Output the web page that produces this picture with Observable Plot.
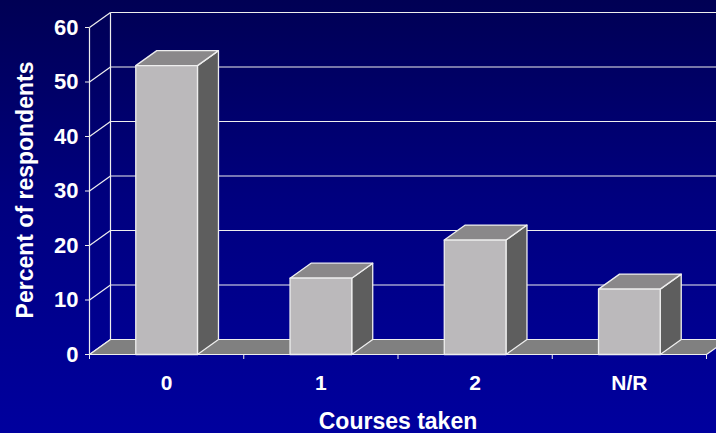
<!DOCTYPE html>
<html>
<head>
<meta charset="utf-8">
<script src="https://cdn.jsdelivr.net/npm/d3@7"></script>
<script src="https://cdn.jsdelivr.net/npm/@observablehq/plot@0.6"></script>
<style>
  html, body { margin: 0; padding: 0; }
  body { width: 716px; height: 433px; overflow: hidden;
         background: linear-gradient(to bottom, #000054 0%, #00007e 45%, #00009e 100%); }
  #chart svg { display: block; overflow: hidden; }
</style>
</head>
<body>
<div id="chart"></div>
<script>
// ---- data ----
const categories = ["0", "1", "2", "N/R"];
const percents = [53, 14, 21, 12];
const yTicks = [0, 10, 20, 30, 40, 50, 60];
const xTitle = "Courses taken";
const yTitle = "Percent of respondents";

// ---- layout ----
const W = 716, H = 433;
const mL = 89, mR = 10, mT = 27, mB = 79;
const depthPx = {x: 21, y: 15};          // 3-D depth offset in pixels
const xDomain = [-0.5, categories.length - 0.5];
const yDomain = [0, 60];
const pxPerX = (W - mL - mR) / (xDomain[1] - xDomain[0]);
const pxPerY = (H - mT - mB) / (yDomain[1] - yDomain[0]);
const DX = depthPx.x / pxPerX;           // depth in x data units
const DY = depthPx.y / pxPerY;           // depth in y data units
const HW = 0.2;                          // half bar width (x units)

const edge = "#eeeeee";
const font = "'Liberation Sans', Arial, Helvetica, sans-serif";

// ---- polygons built from the values ----
const fronts = [], tops = [], sides = [];
percents.forEach((v, i) => {
  const x0 = i - HW, x1 = i + HW;
  fronts.push({id: i, x: x0, y: 0}, {id: i, x: x1, y: 0}, {id: i, x: x1, y: v}, {id: i, x: x0, y: v});
  tops.push({id: i, x: x0, y: v}, {id: i, x: x1, y: v}, {id: i, x: x1 + DX, y: v + DY}, {id: i, x: x0 + DX, y: v + DY});
  sides.push({id: i, x: x1, y: 0}, {id: i, x: x1 + DX, y: DY}, {id: i, x: x1 + DX, y: v + DY}, {id: i, x: x1, y: v});
});
const floor = [
  {x: xDomain[0], y: 0}, {x: xDomain[1], y: 0},
  {x: xDomain[1] + DX, y: DY}, {x: xDomain[0] + DX, y: DY}
];
const boundaries = d3.range(xDomain[0], xDomain[1] + 0.001, 1);

const chart = Plot.plot({
  width: W, height: H,
  marginLeft: mL, marginRight: mR, marginTop: mT, marginBottom: mB,
  x: {type: "linear", domain: xDomain},
  y: {type: "linear", domain: yDomain},
  style: {background: "transparent", color: "white", fontFamily: font, fontWeight: "bold"},
  marks: [
    // back wall gridlines
    Plot.link(yTicks, {x1: xDomain[0] + DX, x2: xDomain[1] + DX, y1: d => d + DY, y2: d => d + DY, stroke: edge, strokeWidth: 1.2}),
    // side wall gridlines
    Plot.link(yTicks, {x1: xDomain[0], x2: xDomain[0] + DX, y1: d => d, y2: d => d + DY, stroke: edge, strokeWidth: 1.2}),
    // wall verticals
    Plot.link([0], {x1: xDomain[0] + DX, x2: xDomain[0] + DX, y1: DY, y2: yDomain[1] + DY, stroke: edge, strokeWidth: 1.2}),
    Plot.link([0], {x1: xDomain[0], x2: xDomain[0], y1: 0, y2: yDomain[1], stroke: edge, strokeWidth: 1.2}),
    // floor
    Plot.line(floor, {x: "x", y: "y", curve: "linear-closed", fill: "#808080", stroke: edge, strokeWidth: 1.2}),
    // bars
    Plot.line(sides, {x: "x", y: "y", z: "id", curve: "linear-closed", fill: "#5e5e5e", stroke: edge, strokeWidth: 1.3}),
    Plot.line(tops, {x: "x", y: "y", z: "id", curve: "linear-closed", fill: "#8a888a", stroke: edge, strokeWidth: 1.3}),
    Plot.line(fronts, {x: "x", y: "y", z: "id", curve: "linear-closed", fill: "#bbb9bb", stroke: edge, strokeWidth: 1.3}),
    // axes
    Plot.axisY({ticks: yTicks, tickSize: 4, tickPadding: 7, fontSize: 22, stroke: edge, label: null}),
    Plot.axisX({ticks: boundaries, tickSize: 5, tickFormat: () => "", stroke: edge, label: null}),
    Plot.axisX({ticks: d3.range(categories.length), tickSize: 0, tickPadding: 21, fontSize: 21,
                tickFormat: i => categories[i], label: null}),
    // titles
    Plot.text([xTitle], {frameAnchor: "bottom", lineAnchor: "bottom", dy: 74, fontSize: 23, fill: "white", fontWeight: "bold"}),
    Plot.text([yTitle], {frameAnchor: "left", textAnchor: "middle", lineAnchor: "bottom", rotate: -90, dx: -57, dy: -1,
                         fontSize: 23, fill: "white", fontWeight: "bold"})
  ]
});
document.getElementById("chart").appendChild(chart);
</script>
</body>
</html>
